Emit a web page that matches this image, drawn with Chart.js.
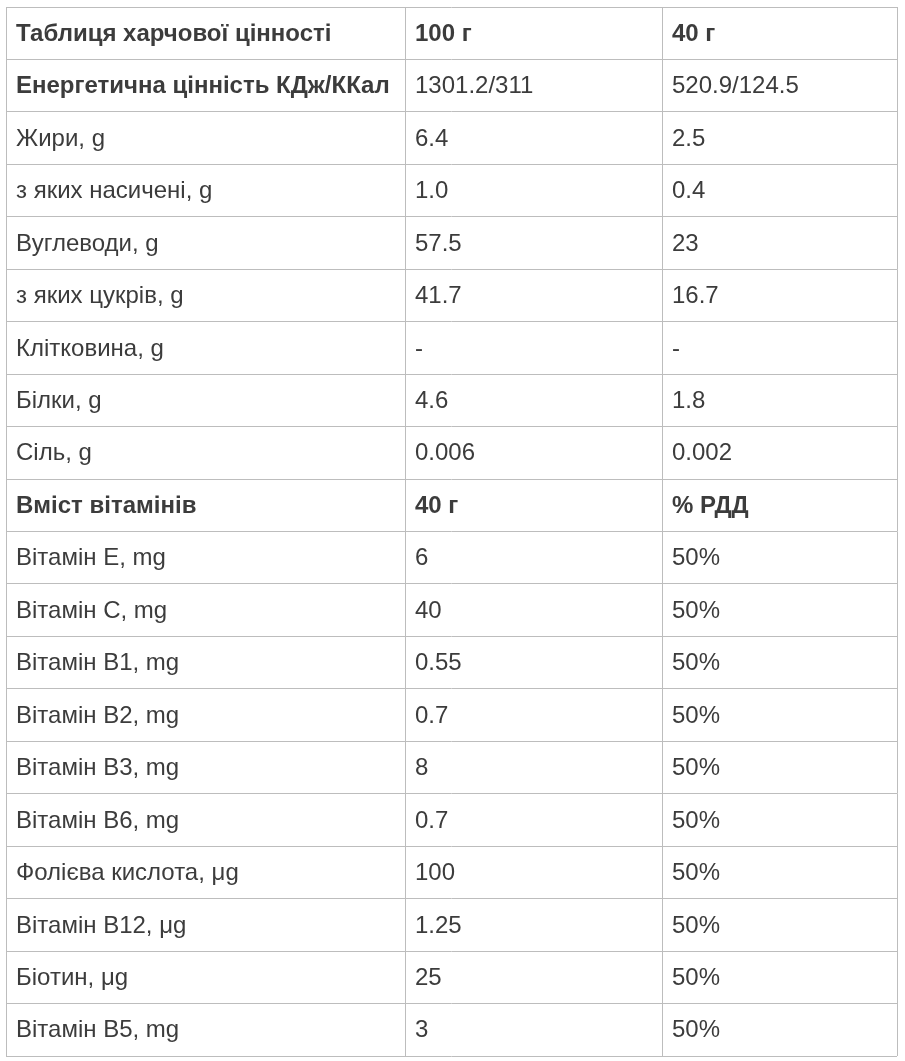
<!DOCTYPE html>
<html>
<head>
<meta charset="utf-8">
<script src="https://cdn.jsdelivr.net/npm/chart.js@4"></script>
<style>
  html, body { margin: 0; padding: 0; background: #fff; }
  #wrap { width: 905px; height: 1061px; }
</style>
</head>
<body>
<div id="wrap"><canvas id="tbl"></canvas></div>
<script>
// table contents
const nutrients = ["Таблиця харчової цінності", "Енергетична цінність КДж/ККал", "Жири, g", "з яких насичені, g",
  "Вуглеводи, g", "з яких цукрів, g", "Клітковина, g", "Білки, g", "Сіль, g", "Вміст вітамінів",
  "Вітамін E, mg", "Вітамін C, mg", "Вітамін B1, mg", "Вітамін B2, mg", "Вітамін B3, mg",
  "Вітамін B6, mg", "Фолієва кислота, μg", "Вітамін B12, μg", "Біотин, μg", "Вітамін B5, mg"];
const col100 = ["100 г", "1301.2/311", "6.4", "1.0", "57.5", "41.7", "-", "4.6", "0.006", "40 г",
  "6", "40", "0.55", "0.7", "8", "0.7", "100", "1.25", "25", "3"];
const col40 = ["40 г", "520.9/124.5", "2.5", "0.4", "23", "16.7", "-", "1.8", "0.002", "% РДД",
  "50%", "50%", "50%", "50%", "50%", "50%", "50%", "50%", "50%", "50%"];
const boldRows = [0, 9];
const colEdges = [0, 399, 656, 891];

const columns = [nutrients, col100, col40];
const points = [];
columns.forEach((col, c) => col.forEach((t, r) => points.push({ x: colEdges[c], y: r + 0.5, text: t, bold: boldRows.includes(r) || (c === 0 && r === 1) })));

const cellText = {
  id: "cellText",
  afterDatasetsDraw(chart) {
    const { ctx, scales } = chart;
    ctx.save();
    ctx.fillStyle = "#3c3c3c";
    ctx.textBaseline = "middle";
    chart.data.datasets[0].data.forEach(p => {
      ctx.font = (p.bold ? "bold " : "") + "24px 'Liberation Sans', Arial, sans-serif";
      ctx.fillText(p.text, scales.x.getPixelForValue(p.x) + 10, scales.y.getPixelForValue(p.y) + 1);
    });
    ctx.restore();
  }
};

new Chart(document.getElementById("tbl"), {
  type: "scatter",
  data: { datasets: [{ data: points, pointRadius: 0, pointHoverRadius: 0 }] },
  options: {
    responsive: true,
    maintainAspectRatio: false,
    animation: false,
    events: [],
    layout: { padding: { left: 6, top: 7, right: 8, bottom: 5 } },
    plugins: { legend: { display: false }, tooltip: { enabled: false } },
    scales: {
      x: {
        type: "linear", min: 0, max: 891,
        afterBuildTicks: s => { s.ticks = colEdges.map(v => ({ value: v })); },
        ticks: { display: false },
        grid: { color: "#bdbdbd", lineWidth: 1, drawTicks: false },
        border: { display: false }
      },
      y: {
        type: "linear", min: 0, max: nutrients.length, reverse: true,
        afterBuildTicks: s => { s.ticks = nutrients.map((_, i) => ({ value: i })).concat([{ value: nutrients.length }]); },
        ticks: { display: false },
        grid: { color: "#bdbdbd", lineWidth: 1, drawTicks: false },
        border: { display: false }
      }
    }
  },
  plugins: [cellText]
});
</script>
</body>
</html>
